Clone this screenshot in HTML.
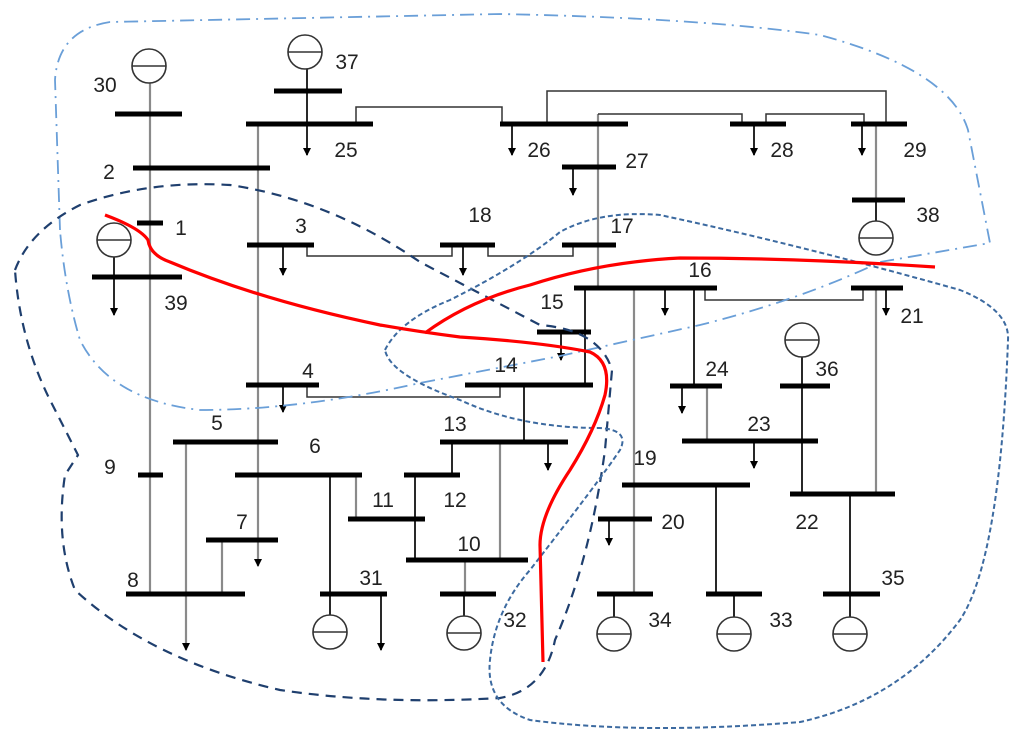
<!DOCTYPE html>
<html><head><meta charset="utf-8"><style>body{margin:0;background:#fff}svg{display:block}text{font-family:"Liberation Sans",sans-serif;font-size:21px;fill:#222;text-anchor:middle}</style></head><body>
<svg width="1024" height="754" viewBox="0 0 1024 754" xmlns="http://www.w3.org/2000/svg">
<defs><marker id="a" markerWidth="8" markerHeight="8" refX="4" refY="7" orient="0" markerUnits="userSpaceOnUse"><path d="M0,0 L8,0 L4,8 Z" fill="#000"/></marker></defs>
<!-- gray vertical lines -->
<g stroke="#8a8a8a" stroke-width="2.2" fill="none">
<line x1="150" y1="82" x2="150" y2="594"/>
<line x1="258" y1="124" x2="258" y2="566" marker-end="url(#a)"/>
<line x1="598" y1="114" x2="598" y2="288"/>
<line x1="634" y1="288" x2="634" y2="594"/>
<line x1="876" y1="288" x2="876" y2="494"/>
<line x1="707" y1="386" x2="707" y2="441"/>
<line x1="500" y1="442" x2="500" y2="560"/>
<line x1="186" y1="442" x2="186" y2="650" marker-end="url(#a)"/>
<line x1="222" y1="540" x2="222" y2="594"/>
<line x1="356" y1="475" x2="356" y2="519"/>
<line x1="465" y1="560" x2="465" y2="594"/>
<line x1="876" y1="124" x2="876" y2="200"/>
</g>
<!-- thin connectors -->
<g stroke="#333" stroke-width="1.5" fill="none">
<polyline points="356,124 356,107 502,107 502,124"/>
<polyline points="547,124 547,91 886,91 886,124"/>
<polyline points="598,114 742,114 742,124"/>
<polyline points="766,124 766,114 864,114 864,124"/>
<polyline points="307,245 307,256 452,256 452,245"/>
<polyline points="488,245 488,256 573,256 573,245"/>
<polyline points="705,288 705,300 863,300 863,288"/>
<polyline points="500,385 500,397 307,397 307,385"/>
</g>
<!-- black vertical lines -->
<g stroke="#111" stroke-width="1.8" fill="none">
<line x1="307" y1="69" x2="307" y2="155" marker-end="url(#a)"/>
<line x1="114" y1="257" x2="114" y2="315" marker-end="url(#a)"/>
<line x1="283" y1="245" x2="283" y2="275" marker-end="url(#a)"/>
<line x1="463" y1="245" x2="463" y2="275" marker-end="url(#a)"/>
<line x1="512" y1="124" x2="512" y2="155" marker-end="url(#a)"/>
<line x1="754" y1="124" x2="754" y2="155" marker-end="url(#a)"/>
<line x1="862" y1="124" x2="862" y2="155" marker-end="url(#a)"/>
<line x1="573" y1="167" x2="573" y2="195" marker-end="url(#a)"/>
<line x1="876" y1="200" x2="876" y2="221"/>
<line x1="665" y1="288" x2="665" y2="315" marker-end="url(#a)"/>
<line x1="886" y1="288" x2="886" y2="315" marker-end="url(#a)"/>
<line x1="585" y1="288" x2="585" y2="385"/>
<line x1="694" y1="288" x2="694" y2="386"/>
<line x1="561" y1="332" x2="561" y2="360" marker-end="url(#a)"/>
<line x1="524" y1="385" x2="524" y2="442"/>
<line x1="283" y1="385" x2="283" y2="412" marker-end="url(#a)"/>
<line x1="548" y1="442" x2="548" y2="470" marker-end="url(#a)"/>
<line x1="452" y1="442" x2="452" y2="475"/>
<line x1="415" y1="475" x2="415" y2="560"/>
<line x1="330" y1="475" x2="330" y2="615"/>
<line x1="381" y1="594" x2="381" y2="650" marker-end="url(#a)"/>
<line x1="464" y1="594" x2="464" y2="616"/>
<line x1="682" y1="386" x2="682" y2="413" marker-end="url(#a)"/>
<line x1="802" y1="357" x2="802" y2="494"/>
<line x1="754" y1="441" x2="754" y2="468" marker-end="url(#a)"/>
<line x1="716" y1="485" x2="716" y2="594"/>
<line x1="609" y1="519" x2="609" y2="545" marker-end="url(#a)"/>
<line x1="850" y1="494" x2="850" y2="617"/>
<line x1="614" y1="594" x2="614" y2="617"/>
<line x1="734" y1="594" x2="734" y2="617"/>
</g>
<!-- buses -->
<g stroke="#000" stroke-width="5">
<line x1="115" y1="114" x2="182" y2="114"/>
<line x1="133" y1="168" x2="270" y2="168"/>
<line x1="137" y1="223" x2="163" y2="223"/>
<line x1="92" y1="277" x2="182" y2="277"/>
<line x1="274" y1="91" x2="342" y2="91"/>
<line x1="246" y1="124" x2="373" y2="124"/>
<line x1="247" y1="245" x2="314" y2="245"/>
<line x1="440" y1="245" x2="495" y2="245"/>
<line x1="500" y1="124" x2="628" y2="124"/>
<line x1="730" y1="124" x2="786" y2="124"/>
<line x1="851" y1="124" x2="907" y2="124"/>
<line x1="562" y1="167" x2="616" y2="167"/>
<line x1="852" y1="200" x2="905" y2="200"/>
<line x1="562" y1="245" x2="616" y2="245"/>
<line x1="574" y1="288" x2="717" y2="288"/>
<line x1="851" y1="288" x2="903" y2="288"/>
<line x1="537" y1="332" x2="591" y2="332"/>
<line x1="465" y1="385" x2="593" y2="385"/>
<line x1="246" y1="385" x2="319" y2="385"/>
<line x1="173" y1="442" x2="278" y2="442"/>
<line x1="235" y1="475" x2="362" y2="475"/>
<line x1="138" y1="475" x2="163" y2="475"/>
<line x1="206" y1="540" x2="278" y2="540"/>
<line x1="126" y1="594" x2="245" y2="594"/>
<line x1="348" y1="519" x2="425" y2="519"/>
<line x1="404" y1="475" x2="460" y2="475"/>
<line x1="440" y1="442" x2="568" y2="442"/>
<line x1="406" y1="560" x2="528" y2="560"/>
<line x1="320" y1="594" x2="387" y2="594"/>
<line x1="440" y1="594" x2="496" y2="594"/>
<line x1="670" y1="386" x2="722" y2="386"/>
<line x1="780" y1="386" x2="830" y2="386"/>
<line x1="682" y1="441" x2="818" y2="441"/>
<line x1="622" y1="485" x2="750" y2="485"/>
<line x1="598" y1="519" x2="652" y2="519"/>
<line x1="790" y1="494" x2="895" y2="494"/>
<line x1="597" y1="594" x2="653" y2="594"/>
<line x1="706" y1="594" x2="762" y2="594"/>
<line x1="823" y1="594" x2="880" y2="594"/>
</g>
<!-- generators -->
<g stroke="#333" stroke-width="1.6" fill="#fff">
<g><circle cx="149" cy="66" r="17"/><line x1="132" y1="66" x2="166" y2="66"/></g>
<g><circle cx="305" cy="52" r="17"/><line x1="288" y1="52" x2="322" y2="52"/></g>
<g><circle cx="114" cy="240" r="17"/><line x1="97" y1="240" x2="131" y2="240"/></g>
<g><circle cx="876" cy="238" r="17"/><line x1="859" y1="238" x2="893" y2="238"/></g>
<g><circle cx="802" cy="340" r="17"/><line x1="785" y1="340" x2="819" y2="340"/></g>
<g><circle cx="330" cy="632" r="17"/><line x1="313" y1="632" x2="347" y2="632"/></g>
<g><circle cx="464" cy="633" r="17"/><line x1="447" y1="633" x2="481" y2="633"/></g>
<g><circle cx="614" cy="634" r="17"/><line x1="597" y1="634" x2="631" y2="634"/></g>
<g><circle cx="734" cy="634" r="17"/><line x1="717" y1="634" x2="751" y2="634"/></g>
<g><circle cx="850" cy="634" r="17"/><line x1="833" y1="634" x2="867" y2="634"/></g>
</g>
<!-- regions -->
<path d="M60,230 L55,80 Q58,30 110,22 L500,14 Q700,18 820,35 Q950,70 968,130 L990,243 L880,262 Q800,300 700,325 L560,356 L420,383 Q300,410 200,410 Q110,400 80,340 Q65,290 60,230 Z" fill="none" stroke="#6a9fd8" stroke-width="1.8" stroke-dasharray="14,6,2,6"/>
<path d="M15,270 Q30,230 80,205 Q150,180 230,185 Q330,200 420,262 L540,325 Q600,330 612,370 L605,450 Q590,560 555,640 Q545,690 500,698 Q380,705 280,690 Q150,660 75,590 Q55,540 65,475 L78,455 L50,400 Q20,340 15,270 Z" fill="none" stroke="#1f3f6e" stroke-width="2.2" stroke-dasharray="10,7"/>
<path d="M385,350 Q400,320 450,300 Q520,265 560,232 Q600,210 660,215 Q800,245 960,290 Q1010,310 1008,340 Q1000,560 960,620 Q900,700 800,722 Q640,735 530,720 Q485,705 490,660 Q495,610 530,570 Q600,480 620,450 Q630,430 600,428 Q520,428 460,400 Q390,375 385,350 Z" fill="none" stroke="#3c6aa0" stroke-width="2" stroke-dasharray="5,3"/>
<!-- red cut -->
<g stroke="#ff0000" stroke-width="3.2" fill="none">
<path d="M105,215 Q140,228 148,240 Q150,255 170,262 Q260,300 380,325 Q420,332 460,337 Q540,342 590,352 Q612,362 605,395 Q595,430 570,470 Q540,515 540,545 L543,662"/>
<path d="M425,333 Q470,300 530,285 Q600,262 680,258 Q800,258 935,267"/>
</g>
<!-- labels -->
<g>
<text x="105" y="92">30</text><text x="347" y="69">37</text><text x="346" y="157">25</text>
<text x="109" y="179">2</text><text x="181" y="235">1</text><text x="176" y="310">39</text>
<text x="301" y="233">3</text><text x="480" y="222">18</text><text x="539" y="157">26</text>
<text x="637" y="168">27</text><text x="782" y="157">28</text><text x="915" y="157">29</text>
<text x="928" y="222">38</text><text x="622" y="233">17</text><text x="700" y="277">16</text>
<text x="552" y="309">15</text><text x="912" y="323">21</text><text x="506" y="372">14</text>
<text x="308" y="378">4</text><text x="827" y="376">36</text><text x="717" y="376">24</text>
<text x="217" y="430">5</text><text x="315" y="453">6</text><text x="455" y="431">13</text>
<text x="759" y="431">23</text><text x="645" y="465">19</text><text x="110" y="474">9</text>
<text x="383" y="507">11</text><text x="455" y="507">12</text><text x="673" y="529">20</text>
<text x="807" y="529">22</text><text x="242" y="529">7</text><text x="469" y="551">10</text>
<text x="133" y="587">8</text><text x="371" y="585">31</text><text x="893" y="585">35</text>
<text x="515" y="627">32</text><text x="660" y="627">34</text><text x="781" y="627">33</text>
</g>
</svg>
</body></html>
